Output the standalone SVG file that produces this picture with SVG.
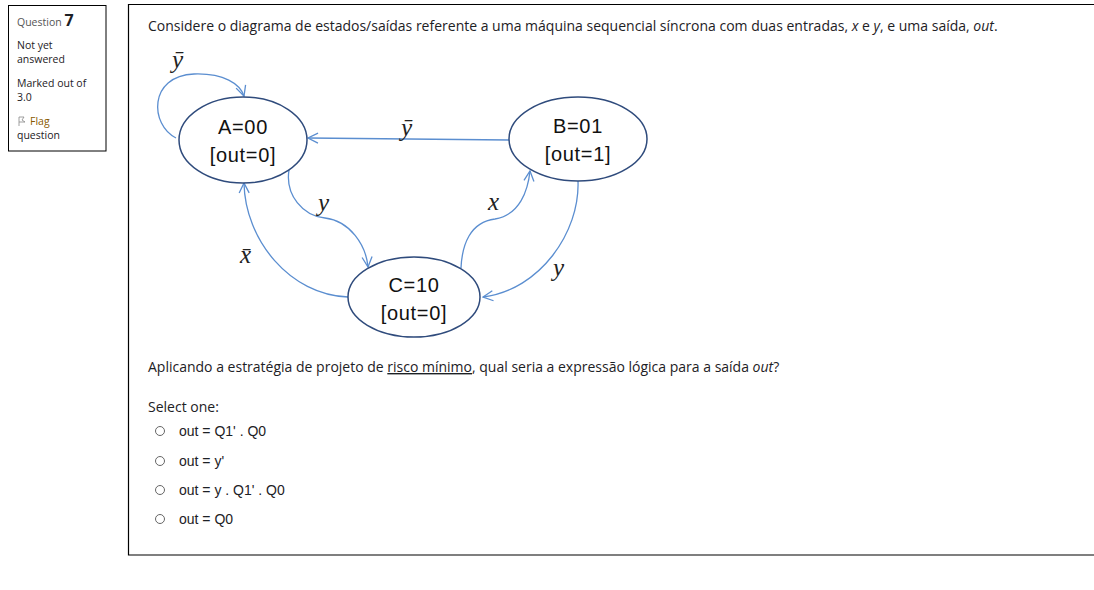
<svg xmlns="http://www.w3.org/2000/svg" width="1094" height="590" viewBox="0 0 1094 590">
<defs>
<style>
.ui{font-family:"Open Sans","Liberation Sans",sans-serif;fill:#1d2125}
.side{font-family:"Open Sans","Liberation Sans",sans-serif;font-size:10.5px;fill:#1d2125}
.st{font-family:"Liberation Sans","Open Sans",sans-serif;font-size:20px;letter-spacing:0.7px;fill:#111}
.lbl{font-family:"Liberation Serif","DejaVu Serif",serif;font-style:italic;font-size:25px;fill:#222}
.node{fill:#fff;stroke:#2f4b7c;stroke-width:1.5}
.edge{fill:none;stroke:#5b8ed0;stroke-width:1.3}
.opt{font-family:"Liberation Sans",Arial,sans-serif;font-size:14px;fill:#1d2125}
.radio{fill:#fff;stroke:#666;stroke-width:1}
</style>
<marker id="arr" viewBox="0 0 12 12" refX="11" refY="6" markerWidth="12" markerHeight="12" markerUnits="userSpaceOnUse" orient="auto">
<path d="M1,1 L11,6 L1,11" fill="none" stroke="#5b8ed0" stroke-width="1.3"/>
</marker>
</defs>
<rect width="1094" height="590" fill="#fff"/>
<g id="info">
<rect x="8.5" y="5.5" width="97.5" height="145.5" fill="none" stroke="#000" stroke-width="1"/>
<text x="17" y="26" class="side" style="fill:#555">Question <tspan style="font-size:16px;font-weight:bold;fill:#1d2125">7</tspan></text>
<text x="17" y="49" class="side">Not yet</text>
<text x="17" y="63" class="side">answered</text>
<text x="17" y="87" class="side">Marked out of</text>
<text x="17" y="101" class="side">3.0</text>
<path d="M19,117 L19,126 M19,117 L24,117 L22,120 L25,122 L19,122" fill="none" stroke="#888" stroke-width="0.8"/>
<text x="30" y="125" class="side" style="fill:#8a5a00">Flag</text>
<text x="17" y="139" class="side">question</text>
</g>
<g id="frame">
<path d="M1094,4.5 L128.5,4.5 L128.5,555 L1094,555" fill="none" stroke="#000" stroke-width="1.2"/>
</g>
<text x="148" y="31" class="ui" font-size="14">Considere o diagrama de estados/saídas referente a uma máquina sequencial síncrona com duas entradas, <tspan font-style="italic">x</tspan> e <tspan font-style="italic">y</tspan>, e uma saída, <tspan font-style="italic">out</tspan>.</text>
<g id="connectors">
<path class="edge" marker-end="url(#arr)" d="M176,138 C150,125 148,76 194,74 C224,73 240,84 244,96"/>
<path class="edge" marker-end="url(#arr)" d="M509,140 L308,138"/>
<path class="edge" marker-end="url(#arr)" d="M289,170 C285,195 303,216 325,218 C350,221 366,245 368,267"/>
<path class="edge" marker-end="url(#arr)" d="M461,268 C462,245 470,222 495,219 C520,215 528,190 530,171"/>
<path class="edge" marker-end="url(#arr)" d="M578,181 C580,232 540,290 483,297"/>
<path class="edge" marker-end="url(#arr)" d="M348,297 C290,295 245,240 244,183"/>
</g>
<g id="labels">
<text x="172" y="68" class="lbl">ȳ</text>
<text x="401" y="136" class="lbl">ȳ</text>
<text x="318" y="211" class="lbl">y</text>
<text x="488" y="210" class="lbl">x</text>
<text x="240" y="263" class="lbl">x̄</text>
<text x="553" y="276" class="lbl">y</text>
</g>
<g id="nodeA">
<ellipse class="node" cx="243" cy="140" rx="64" ry="43"/>
<text x="243" y="134" class="st" text-anchor="middle">A=00</text>
<text x="243" y="162" class="st" text-anchor="middle">[out=0]</text>
</g>
<g id="nodeB">
<ellipse class="node" cx="578" cy="139" rx="69" ry="42"/>
<text x="578" y="133" class="st" text-anchor="middle">B=01</text>
<text x="578" y="161" class="st" text-anchor="middle">[out=1]</text>
</g>
<g id="nodeC">
<ellipse class="node" cx="414" cy="297" rx="66" ry="40"/>
<text x="414" y="292" class="st" text-anchor="middle">C=10</text>
<text x="414" y="320" class="st" text-anchor="middle">[out=0]</text>
</g>
<text x="148" y="372" class="ui" font-size="14">Aplicando a estratégia de projeto de <tspan text-decoration="underline">risco mínimo</tspan>, qual seria a expressão lógica para a saída <tspan font-style="italic">out</tspan>?</text>
<text x="148" y="412" class="ui" font-size="14">Select one:</text>
<g id="options">
<circle class="radio" cx="160" cy="431" r="4.5"/>
<text x="179" y="436" class="opt">out = Q1' . Q0</text>
<circle class="radio" cx="160" cy="461" r="4.5"/>
<text x="179" y="466" class="opt">out = y'</text>
<circle class="radio" cx="160" cy="490" r="4.5"/>
<text x="179" y="495" class="opt">out = y . Q1' . Q0</text>
<circle class="radio" cx="160" cy="519" r="4.5"/>
<text x="179" y="524" class="opt">out = Q0</text>
</g>
</svg>
